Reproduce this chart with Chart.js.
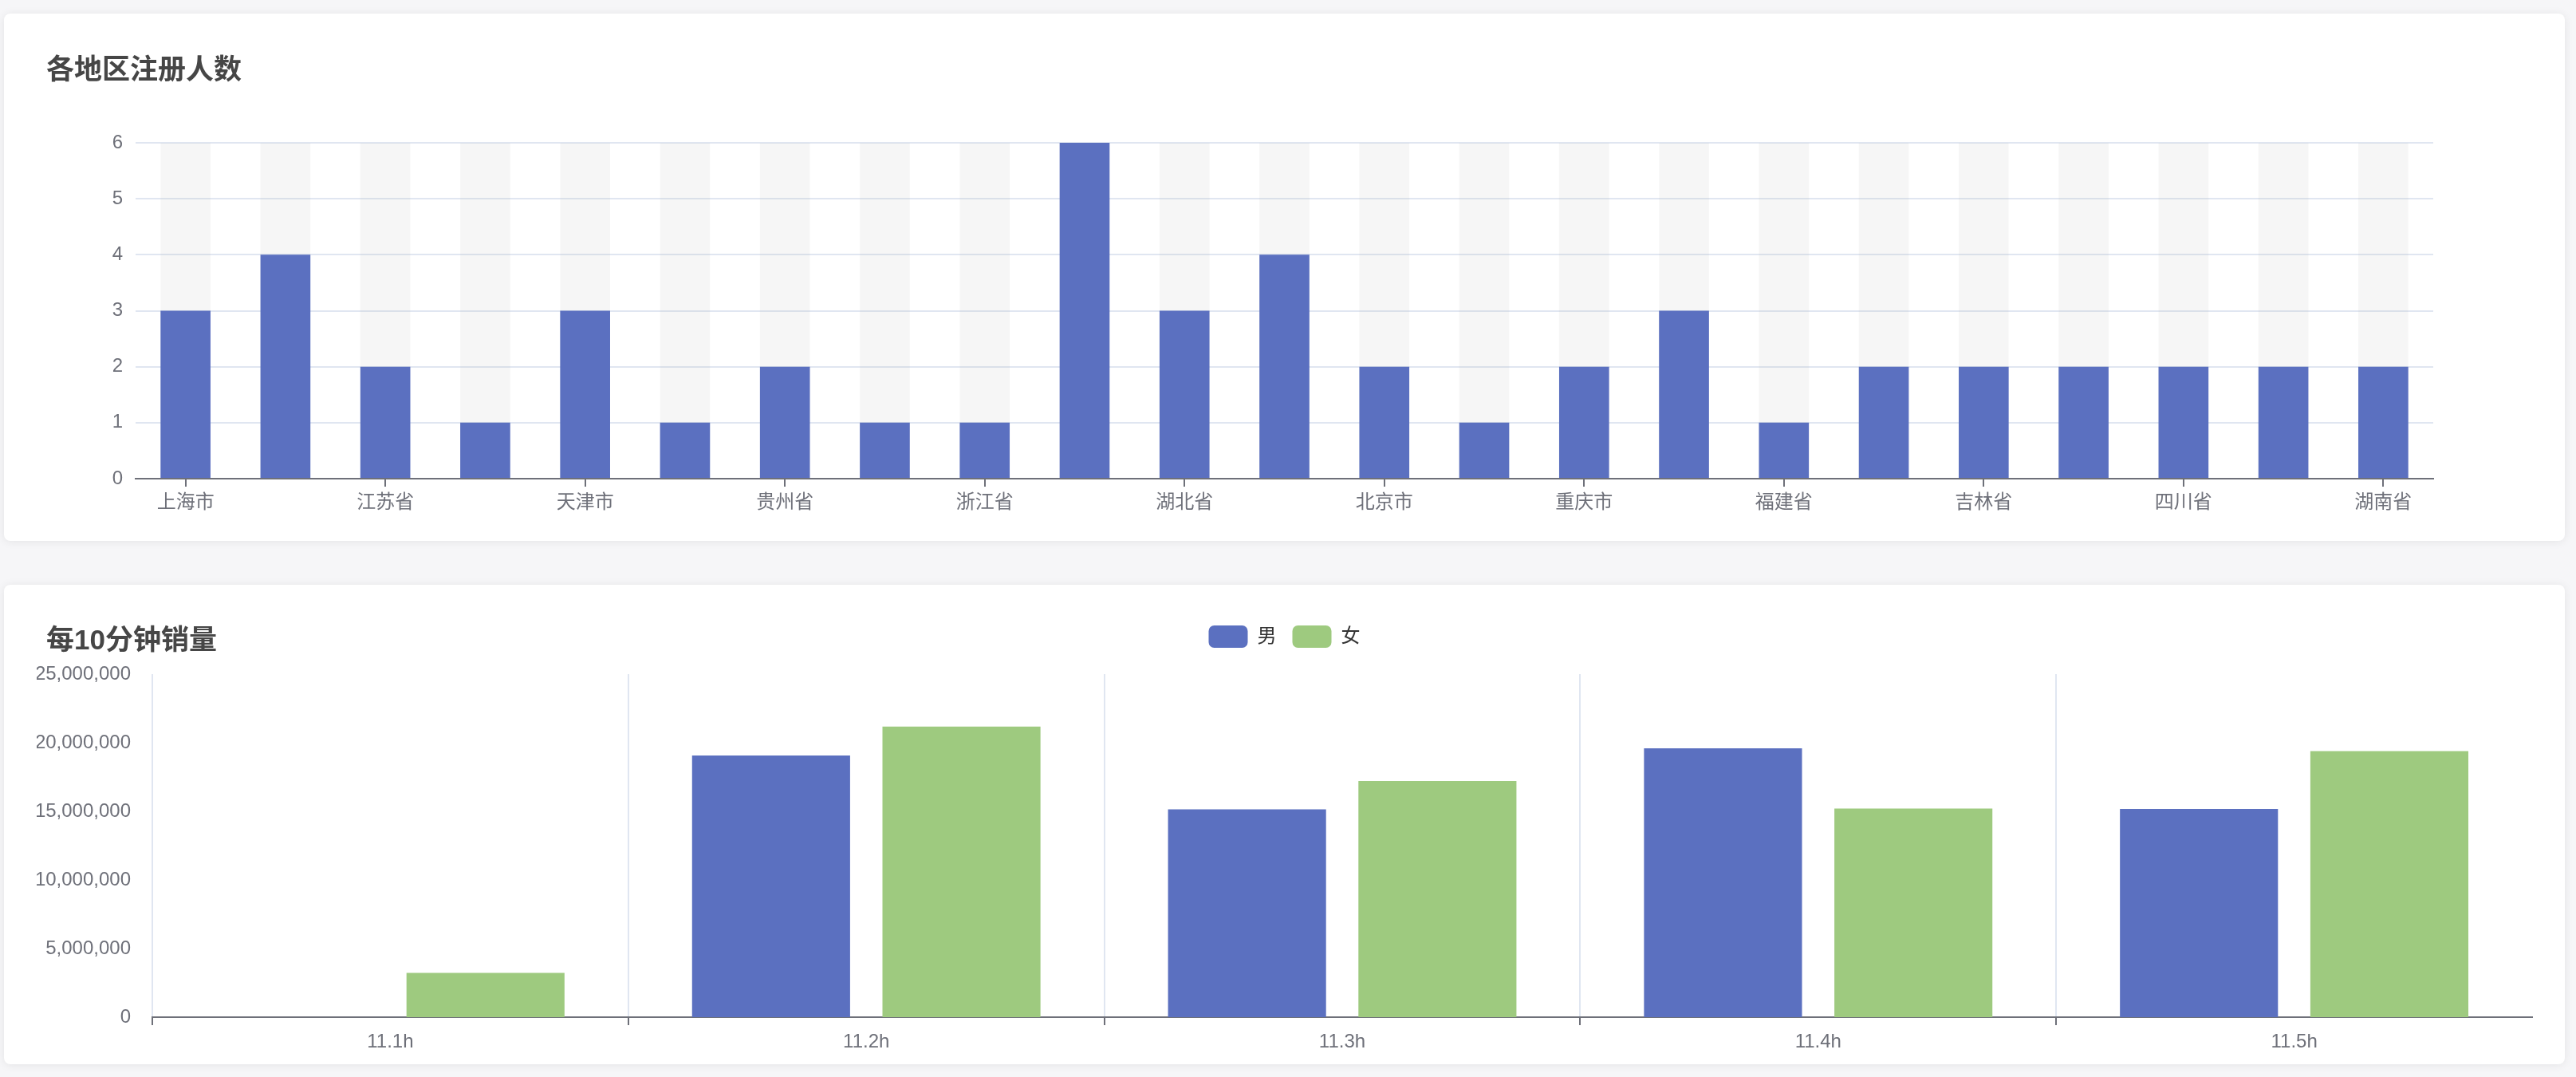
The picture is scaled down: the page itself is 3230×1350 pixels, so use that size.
<!DOCTYPE html>
<html>
<head>
<meta charset="utf-8">
<script src="https://cdn.jsdelivr.net/npm/chart.js@4.4.0/dist/chart.umd.min.js"></script>
<style>
  body { margin: 0; width: 3230px; height: 1350px; background: #f6f6f8; overflow: hidden; font-family: "Liberation Sans", "Noto Sans CJK SC", sans-serif; }
  .card { position: absolute; left: 5px; width: 3211px; background: #fff; border-radius: 8px; box-shadow: 0 1px 12px rgba(0, 0, 0, 0.08); }
  .card h3 { position: absolute; left: 53px; margin: 0; font-size: 35px; line-height: 1; font-weight: bold; color: #464646; z-index: 2; }
  .wrap { position: absolute; left: 0; top: 0; right: 0; bottom: 0; }
</style>
</head>
<body>
<div class="card" style="top:17px;height:661px">
  <h3 style="top:52px">各地区注册人数</h3>
  <div class="wrap"><canvas id="region-chart"></canvas></div>
</div>
<div class="card" style="top:733px;height:601px">
  <h3 style="top:51px">每10分钟销量</h3>
  <div class="wrap"><canvas id="sales-chart"></canvas></div>
</div>
<script>
// 数据
const regions = [
  "上海市", "广东省", "江苏省", "山东省", "天津市", "河南省", "贵州省", "安徽省",
  "浙江省", "河北省", "湖北省", "陕西省", "北京市", "辽宁省", "重庆市", "江西省",
  "福建省", "云南省", "吉林省", "山西省", "四川省", "广西省", "湖南省",
];
const regionCounts = [3, 4, 2, 1, 3, 1, 2, 1, 1, 6, 3, 4, 2, 1, 2, 3, 1, 2, 2, 2, 2, 2, 2];
const countMax = 6;

const hours = ["11.1h", "11.2h", "11.3h", "11.4h", "11.5h"];
const maleSales = [0, 19070000, 15150000, 19600000, 15180000];
const femaleSales = [3230000, 21180000, 17210000, 15200000, 19390000];
const salesMax = 25000000;

const BLUE = "#5b70c0";
const GREEN = "#9eca7f";
const AXIS = "#6E7079";
const GRID = "#E0E6F1";

Chart.defaults.font.family = '"Liberation Sans", "Noto Sans CJK SC", sans-serif';
Chart.defaults.animation = false;

// 图例下方留白
const legendGap = {
  id: "legendGap",
  beforeLayout(chart) {
    const legend = chart.legend;
    if (!legend || legend._gapPatched) return;
    const fit = legend.fit;
    legend.fit = function () {
      fit.call(this);
      this.height += 23;
    };
    legend._gapPatched = true;
  },
};

// 各地区注册人数
new Chart(document.getElementById("region-chart"), {
  type: "bar",
  data: {
    labels: regions,
    datasets: [
      {
        label: "注册人数",
        data: regionCounts,
        backgroundColor: BLUE,
        grouped: false,
        order: 0,
        barPercentage: 1,
        categoryPercentage: 0.5,
      },
      {
        label: "背景",
        data: regions.map(() => countMax),
        backgroundColor: "rgba(180,180,180,0.12)",
        grouped: false,
        order: 1,
        barPercentage: 1,
        categoryPercentage: 0.5,
      },
    ],
  },
  options: {
    responsive: true,
    maintainAspectRatio: false,
    layout: { padding: { top: 162, right: 165, left: 0, bottom: 0 } },
    plugins: { legend: { display: false }, tooltip: { enabled: false } },
    scales: {
      x: {
        grid: {
          drawOnChartArea: false,
          offset: false,
          tickLength: 10,
          lineWidth: 2,
          color: (ctx) => (ctx.index % 2 === 0 ? AXIS : "transparent"),
        },
        border: { color: AXIS, width: 2 },
        ticks: {
          autoSkip: false,
          maxRotation: 0,
          padding: 6,
          color: AXIS,
          font: { size: 24 },
          callback: function (v, i) {
            return i % 2 === 0 ? this.getLabelForValue(v) : "";
          },
        },
        afterFit(s) { s.height = 78; },
      },
      y: {
        min: 0,
        max: countMax,
        ticks: { stepSize: 1, padding: 16, color: AXIS, font: { size: 24 } },
        grid: { color: GRID, lineWidth: 2, drawTicks: false },
        border: { display: false },
        afterFit(s) { s.width = 165; },
      },
    },
  },
});

// 每10分钟销量
new Chart(document.getElementById("sales-chart"), {
  type: "bar",
  data: {
    labels: hours,
    datasets: [
      { label: "男", data: maleSales, backgroundColor: BLUE, barPercentage: 0.83, categoryPercentage: 0.8 },
      { label: "女", data: femaleSales, backgroundColor: GREEN, barPercentage: 0.83, categoryPercentage: 0.8 },
    ],
  },
  plugins: [legendGap],
  options: {
    responsive: true,
    maintainAspectRatio: false,
    layout: { padding: { top: 31, right: 41, left: 41, bottom: 0 } },
    plugins: {
      tooltip: { enabled: false },
      legend: {
        position: "top",
        labels: {
          boxWidth: 49,
          boxHeight: 28,
          useBorderRadius: true,
          borderRadius: 7,
          padding: 20,
          color: "#333",
          font: { size: 24 },
        },
      },
    },
    scales: {
      x: {
        grid: {
          lineWidth: 2,
          tickLength: 10,
          color: (ctx) => (ctx.index < hours.length ? GRID : "transparent"),
          tickColor: (ctx) => (ctx.index < hours.length ? AXIS : "transparent"),
        },
        border: { color: AXIS, width: 2 },
        ticks: { padding: 7, color: AXIS, font: { size: 24 } },
        afterFit(s) { s.height = 59; },
      },
      y: {
        min: 0,
        max: salesMax,
        ticks: {
          stepSize: 5000000,
          padding: 19,
          color: AXIS,
          font: { size: 24 },
          callback: (v) => v.toLocaleString("en-US"),
        },
        grid: { display: false },
        border: { display: false },
        afterFit(s) { s.width = 145; },
      },
    },
  },
});
</script>
</body>
</html>
